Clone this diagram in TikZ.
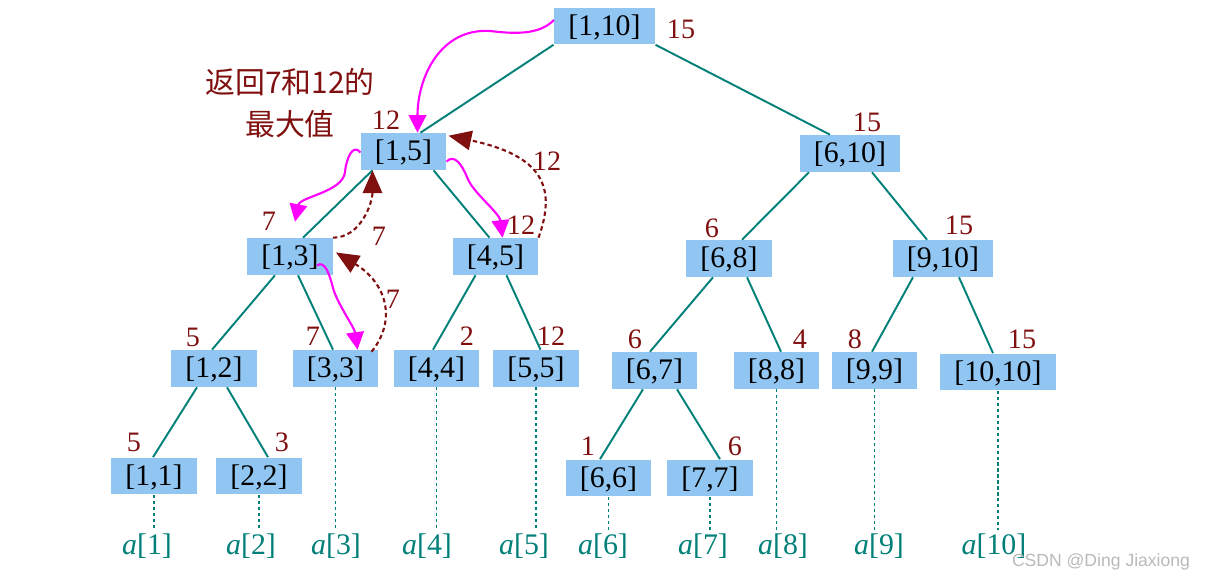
\documentclass[tikz,border=0pt]{standalone}
\usepackage{fontspec}
\newfontfamily\cjkfont{Noto Sans CJK SC}
\newfontfamily\markfont{Liberation Sans}
\newfontfamily\segfont{Liberation Serif}
\usetikzlibrary{calc,arrows.meta}
\definecolor{segblue}{RGB}{146,198,242}
\definecolor{edgeteal}{RGB}{0,128,120}
\definecolor{valred}{RGB}{128,16,16}
\definecolor{callpink}{RGB}{255,0,255}
\newcommand{\elem}[1]{{\itshape a}[#1]}
\tikzset{
  seg/.style={fill=segblue, inner xsep=8pt, inner ysep=2.75pt, text height=13pt, text depth=2.5pt, font=\segfont\fontsize{17}{20}\selectfont},
  val/.style={text=valred, inner sep=0pt, font=\segfont\fontsize{16}{19}\selectfont},
  leaf/.style={text=edgeteal, inner sep=2pt, anchor=base, font=\segfont\fontsize{17}{20}\selectfont},
  edge/.style={draw=edgeteal, line width=1.1pt},
  tie/.style={draw=edgeteal, line width=1pt, dash pattern=on 1.8pt off 1.6pt},
  call/.style={draw=callpink, line width=1.2pt, -{Triangle[length=10pt,width=10pt]}},
  back/.style={draw=valred, line width=1.2pt, dash pattern=on 2.5pt off 1.8pt, -{Triangle[length=13pt,width=11pt]}},
}
\begin{document}
\begin{tikzpicture}[x=0.02cm, y=-0.02cm]
		%%%%% START %%%%%
		\useasboundingbox (0,0) rectangle (1207,580);
		
		% segments
		\node[seg] (r) at (604.5,26) {[1,10]};
		\node[seg] (n15) at (403.5,151.5) {[1,5]};
		\node[seg] (n610) at (850,153.5) {[6,10]};
		\node[seg] (n13) at (290,256.5) {[1,3]};
		\node[seg] (n45) at (495.5,256.5) {[4,5]};
		\node[seg] (n68) at (729,258.5) {[6,8]};
		\node[seg] (n910) at (943,258.5) {[9,10]};
		\node[seg] (n12) at (214,368.5) {[1,2]};
		\node[seg] (n33) at (335.5,368.5) {[3,3]};
		\node[seg] (n44) at (436.5,368.5) {[4,4]};
		\node[seg] (n55) at (536,368.5) {[5,5]};
		\node[seg] (n67) at (654.5,370.5) {[6,7]};
		\node[seg] (n88) at (776.5,370.5) {[8,8]};
		\node[seg] (n99) at (874.5,370.5) {[9,9]};
		\node[seg] (n1010) at (998,372) {[10,10]};
		\node[seg] (n11) at (154,476) {[1,1]};
		\node[seg] (n22) at (259,476) {[2,2]};
		\node[seg] (n66) at (608.5,478) {[6,6]};
		\node[seg] (n77) at (710,478) {[7,7]};
		
		% maxima
		\node[val] (vr) at (681,29) {15};
		\node[val] (v15) at (386,120) {12};
		\node[val] (v610) at (867,122) {15};
		\node[val] (v13) at (269,221) {7};
		\node[val] (v45) at (521,225) {12};
		\node[val] (v68) at (712,228) {6};
		\node[val] (v910) at (959,225) {15};
		\node[val] (v12) at (193,337) {5};
		\node[val] (v33) at (313,336) {7};
		\node[val] (v44) at (467,336) {2};
		\node[val] (v55) at (551,336) {12};
		\node[val] (v67) at (635,339) {6};
		\node[val] (v88) at (800,339) {4};
		\node[val] (v99) at (855,339) {8};
		\node[val] (v1010) at (1022,339) {15};
		\node[val] (v11) at (134,442) {5};
		\node[val] (v22) at (282,442) {3};
		\node[val] (v66) at (588,446) {1};
		\node[val] (v77) at (735,446) {6};
		
		% array
		\node[leaf] (a1) at (147,555) {\elem{1}};
		\node[leaf] (a2) at (251,555) {\elem{2}};
		\node[leaf] (a3) at (336,555) {\elem{3}};
		\node[leaf] (a4) at (427,555) {\elem{4}};
		\node[leaf] (a5) at (524,555) {\elem{5}};
		\node[leaf] (a6) at (603,555) {\elem{6}};
		\node[leaf] (a7) at (703,555) {\elem{7}};
		\node[leaf] (a8) at (783,555) {\elem{8}};
		\node[leaf] (a9) at (879,555) {\elem{9}};
		\node[leaf] (a10) at (994,555) {\elem{10}};
		
		% tree edges
		\draw[edge] ($(r.south)+(-51,0)$) -- ($(n15.north)+(17,0)$);
		\draw[edge] ($(r.south)+(51,0)$) -- ($(n610.north)+(-20,0)$);
		\draw[edge] ($(n15.south)+(-31,0)$) -- ($(n13.north)+(13,0)$);
		\draw[edge] ($(n15.south)+(30,0)$) -- ($(n45.north)+(-6,0)$);
		\draw[edge] ($(n610.south)+(-41,0)$) -- ($(n68.north)+(13,0)$);
		\draw[edge] ($(n610.south)+(22,0)$) -- ($(n910.north)+(-16,0)$);
		\draw[edge] ($(n13.south)+(-15,0)$) -- ($(n12.north)+(-2,0)$);
		\draw[edge] ($(n13.south)+(8,0)$) -- ($(n33.north)+(-2.5,0)$);
		\draw[edge] ($(n45.south)+(-20,0)$) -- ($(n44.north)+(-3.5,0)$);
		\draw[edge] ($(n45.south)+(11,0)$) -- ($(n55.north)+(4.5,0)$);
		\draw[edge] ($(n68.south)+(-16,0)$) -- ($(n67.north)+(-4.5,0)$);
		\draw[edge] ($(n68.south)+(18,0)$) -- ($(n88.north)+(4.5,0)$);
		\draw[edge] ($(n910.south)+(-30,0)$) -- ($(n99.north)+(-2.5,0)$);
		\draw[edge] ($(n910.south)+(16,0)$) -- ($(n1010.north)+(-5,0)$);
		\draw[edge] ($(n12.south)+(-17,0)$) -- ($(n11.north)+(-1,0)$);
		\draw[edge] ($(n12.south)+(13,0)$) -- ($(n22.north)+(9,0)$);
		\draw[edge] ($(n67.south)+(-11.5,0)$) -- ($(n66.north)+(-8.5,0)$);
		\draw[edge] ($(n67.south)+(22.5,0)$) -- ($(n77.north)+(10,0)$);
		
		% leaves down to the array
		\draw[tie] (n11.south) -- (n11.south |- a1.north);
		\draw[tie] (n22.south) -- (n22.south |- a2.north);
		\draw[tie] (n33.south) -- (n33.south |- a3.north);
		\draw[tie] (n44.south) -- (n44.south |- a4.north);
		\draw[tie] (n55.south) -- (n55.south |- a5.north);
		\draw[tie] (n66.south) -- (n66.south |- a6.north);
		\draw[tie] (n77.south) -- (n77.south |- a7.north);
		\draw[tie] (n88.south) -- (n88.south |- a8.north);
		\draw[tie] (n99.south) -- (n99.south |- a9.north);
		\draw[tie] (n1010.south) -- (n1010.south |- a10.north);
		
		% calls
		\draw[call] ($(r.west)+(0,-6)$) .. controls +(-15,15) and (515,34) .. (490,31) .. controls (440,28) and +(0,-55) .. ($(n15.north)+(14,0)$);
		\draw[call] ($(n15.west)+(0,1)$) .. controls +(-8,-10) and +(1,-12) .. (345,172) .. controls +(-2,20) and +(5,-25) .. ($(n13.north)+(5,-16)$);
		\draw[call] ($(n15.east)+(0,10)$) .. controls +(8,-8) and +(-5,-12) .. (467,177) .. controls +(5,15) and +(-3,-25) .. ($(n45.north)+(7,0)$);
		\draw[call] ($(n13.east)+(-16,9)$) .. controls +(8,-6) and +(-3,-12) .. (333,288) .. controls +(4,15) and +(-3,-22) .. ($(n33.north)+(22,0)$);
		
		% returns
		\draw[back] (n13.north east) .. controls +(28,0) and +(0,32) .. ($(n15.south)+(-31,0)$);
		\draw[back] ($(n33.north east)+(-7,2)$) .. controls +(26,-32) and +(50,30) .. ($(n13.east)+(3,-4)$);
		\draw[back] (n45.north east) .. controls +(18,-50) and +(95,20) .. ($(n15.north east)+(2,3)$);
		\node[val] (b13) at (379,236) {7};
		\node[val] (b33) at (393,299) {7};
		\node[val] (b45) at (547,161) {12};
		
		\node[text=valred, align=center, inner sep=0pt, font=\cjkfont\fontsize{17}{24}\selectfont] (note) at (290,103) {返回7和12的\\最大值};
		
		\node[text=gray!55, font=\markfont\fontsize{10}{12}\selectfont] (mark) at (1101,562) {CSDN @Ding Jiaxiong};
		
		%%%%% END %%%%%
\end{tikzpicture}
\end{document}
